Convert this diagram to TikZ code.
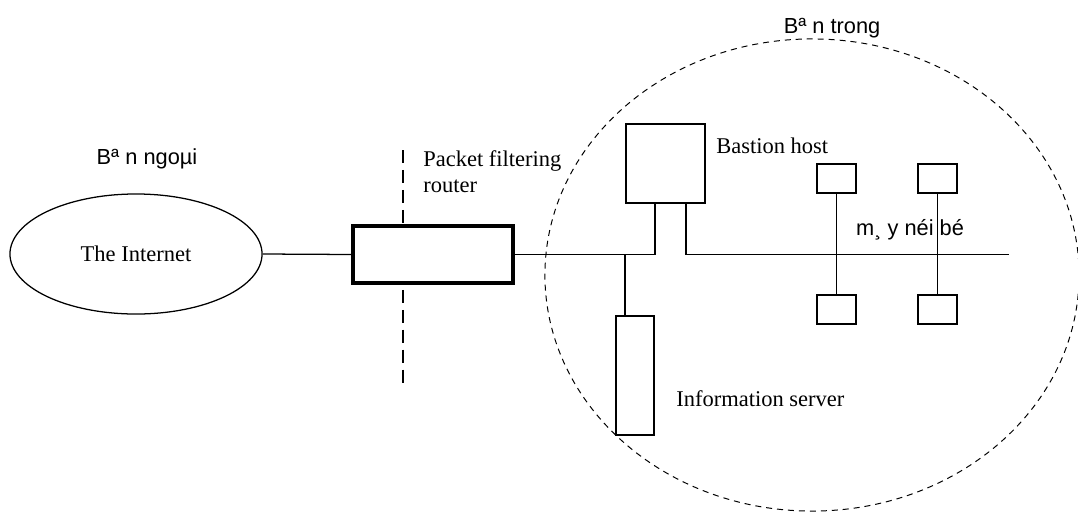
\documentclass[tikz,border=0pt]{standalone}
\usepackage{fontspec}
\setmainfont{Liberation Serif}
\setsansfont{Liberation Sans}
\usetikzlibrary{shapes.geometric}

\begin{document}
\begin{tikzpicture}[
  x=0.025cm, y=-0.025cm,
  every node/.style={font=\fontsize{16}{18.4}\selectfont},
  wire/.style={line width=0.9pt},
  box/.style={draw,line width=0.9pt,fill=white,inner sep=0pt},
  host/.style={box,minimum width=0.975cm,minimum height=0.725cm},
  lbl/.style={font=\sffamily\fontsize{15.5}{18}\selectfont,inner sep=0pt,anchor=base},
  cut/.style={line width=1pt,dash pattern=on 9.2pt off 5pt},
]
  \useasboundingbox (0,0) rectangle (1078,514);

  % inside network border
  \node[ellipse,draw,line width=0.7pt,dash pattern=on 4.3pt off 3.5pt,
    minimum width=13.35cm,minimum height=11.8cm] (inside) at (812,275) {};

  % cut through the router
  \coordinate (cuttop) at (403,150);
  \coordinate (cutbot) at (403,385);
  \draw[cut] (cuttop) -- (cutbot);

  \node[ellipse,draw,line width=0.9pt,minimum width=6.3cm,minimum height=3cm] (inet) at (136,254) {The Internet};
  \node[box,line width=2.2pt,minimum width=4cm,minimum height=1.425cm] (router) at (433,254.5) {};
  \node[box,minimum width=1.975cm,minimum height=1.975cm] (bastion) at (665.5,163.5) {};
  \node[box,minimum width=0.95cm,minimum height=2.975cm] (info) at (635,375.5) {};

  \node[host] (h1t) at (836.5,178.5) {};
  \node[host] (h1b) at (836.5,309.5) {};
  \node[host] (h2t) at (937.5,178.5) {};
  \node[host] (h2b) at (937.5,309.5) {};

  \coordinate (bin) at (655,203);
  \coordinate (bout) at (686,203);
  \coordinate (tap) at (625,254.5);
  \coordinate (lanend) at (1009,254.5);

  \draw[wire] (inet.east) -- (router.west);
  \draw[wire] (router.east) -| (bin);
  \draw[wire] (tap) -- (tap |- info.north);
  \draw[wire] (bout) |- (lanend);
  \draw[wire] (h1t) -- (h1b);
  \draw[wire] (h2t) -- (h2b);

  \node[lbl] (outlbl) at (147,164) {Bª n ngoµi};
  \node[lbl] (inlbl) at (832,33) {Bª n trong};
  \node[lbl] (lanlbl) at (910,235) {m¸ y néi bé};
  \node[anchor=base west,inner sep=0pt,align=left] (routerlbl) at (423,192) {Packet filtering\\router};
  \node[anchor=base west,inner sep=0pt] (bastionlbl) at (716,153) {Bastion host};
  \node[anchor=base west,inner sep=0pt] (infolbl) at (676,406) {Information server};
\end{tikzpicture}
\end{document}
